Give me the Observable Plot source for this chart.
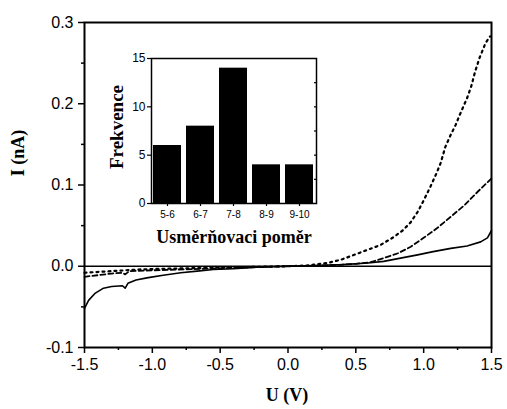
<!DOCTYPE html>
<html>
<head>
<meta charset="utf-8">
<script src="https://cdn.jsdelivr.net/npm/d3@7"></script>
<script src="https://cdn.jsdelivr.net/npm/@observablehq/plot@0.6"></script>
<style>
  html, body { margin: 0; padding: 0; background: white; }
  #wrap { position: relative; width: 507px; height: 409px; }
  #inset { position: absolute; left: 100px; top: 40px; }
</style>
</head>
<body>
<div id="wrap"><div id="main"></div><div id="inset"></div></div>
<script>
// Main I–V curves
const solidU = [-1.5,-1.47,-1.42,-1.36,-1.3,-1.22,-1.2,-1.18,-1.12,-1.03,-0.92,-0.79,-0.67,-0.55,-0.4,-0.2,0,0.2,0.4,0.59,0.705,0.83,0.955,1.07,1.2,1.32,1.42,1.47,1.5];
const solidI = [-0.052,-0.042,-0.033,-0.027,-0.025,-0.024,-0.027,-0.021,-0.017,-0.014,-0.011,-0.008,-0.006,-0.004,-0.003,-0.001,0,0.001,0.002,0.004,0.006,0.01,0.014,0.018,0.022,0.025,0.03,0.035,0.044];
const dashedU = [-1.5,-1.4,-1.3,-1.22,-1.2,-1.17,-1.0,-0.8,-0.6,-0.4,-0.2,0,0.2,0.4,0.5,0.61,0.705,0.81,0.905,1.0,1.1,1.2,1.3,1.4,1.5];
const dashedI = [-0.013,-0.011,-0.009,-0.008,-0.010,-0.006,-0.005,-0.004,-0.003,-0.002,-0.001,0,0.0005,0.002,0.003,0.005,0.01,0.016,0.024,0.035,0.047,0.061,0.075,0.092,0.108];
const dottedU = [-1.5,-1.3,-1.1,-0.9,-0.6,-0.3,0,0.15,0.29,0.39,0.535,0.68,0.78,0.845,0.904,0.956,1.0,1.05,1.096,1.125,1.16,1.2,1.236,1.265,1.32,1.35,1.38,1.413,1.457,1.49];
const dottedI = [-0.008,-0.006,-0.004,-0.003,-0.002,-0.001,0,0.001,0.004,0.008,0.017,0.026,0.036,0.044,0.054,0.067,0.081,0.098,0.115,0.127,0.147,0.162,0.174,0.186,0.207,0.221,0.24,0.257,0.275,0.283];

const xTicks = [-1.5,-1.0,-0.5,0.0,0.5,1.0,1.5];
const xMinor = [-1.25,-0.75,-0.25,0.25,0.75,1.25];
const yTicks = [-0.1,0.0,0.1,0.2,0.3];
const yMinor = [-0.05,0.05,0.15,0.25];

// Inset histogram
const ratioCats = ["5-6","6-7","7-8","8-9","9-10"];
const freq = [6,8,14,4,4];
const freqTicks = [0,5,10,15];
const freqMinor = [2.5,5,7.5,10,12.5];

const toRows = (U, I) => U.map((u, i) => ({u, i: I[i]}));
const fmt = d => d.toFixed(1);

const main = Plot.plot({
  width: 507, height: 409,
  marginLeft: 84, marginRight: 16, marginTop: 22, marginBottom: 62,
  x: {domain: [-1.5, 1.5]},
  y: {domain: [-0.1, 0.3]},
  style: {fontFamily: "'Liberation Sans', Arial, sans-serif", fontSize: "16px", color: "black", background: "white"},
  marks: [
    Plot.ruleY([0], {stroke: "black", strokeWidth: 1.5}),
    Plot.line(toRows(solidU, solidI), {x: "u", y: "i", stroke: "black", strokeWidth: 1.6}),
    Plot.line(toRows(dashedU, dashedI), {x: "u", y: "i", stroke: "black", strokeWidth: 1.8, strokeDasharray: "5,3"}),
    Plot.line(toRows(dottedU, dottedI), {x: "u", y: "i", stroke: "black", strokeWidth: 2.2, strokeDasharray: "2,4"}),
    Plot.frame({stroke: "black", strokeWidth: 2}),
    Plot.axisX({ticks: xTicks, tickFormat: fmt, tickSize: 6, tickPadding: 5, label: null, strokeWidth: 1.5}),
    Plot.axisX({ticks: xMinor, tickFormat: () => "", tickSize: 3, label: null, strokeWidth: 1.5}),
    Plot.axisY({ticks: yTicks, tickFormat: fmt, tickSize: 6, tickPadding: 5, label: null, strokeWidth: 1.5}),
    Plot.axisY({ticks: yMinor, tickFormat: () => "", tickSize: 3, label: null, strokeWidth: 1.5})
  ]
});
document.getElementById("main").appendChild(main);

const ms = d3.select(main);
ms.append("text").attr("x", 287).attr("y", 401).attr("text-anchor", "middle")
  .attr("font-family", "'Liberation Serif', 'Times New Roman', serif").attr("font-weight", "bold").attr("font-size", 18)
  .text("U (V)");
ms.append("text").attr("transform", "translate(24,153) rotate(-90)").attr("text-anchor", "middle")
  .attr("font-family", "'Liberation Serif', 'Times New Roman', serif").attr("font-weight", "bold").attr("font-size", 18)
  .text("I (nA)");

const inset = Plot.plot({
  width: 230, height: 210,
  marginLeft: 51, marginRight: 14, marginTop: 18, marginBottom: 47,
  x: {domain: ratioCats, padding: 0.15, paddingOuter: 0.05},
  y: {domain: [0, 15]},
  style: {fontFamily: "'Liberation Sans', Arial, sans-serif", fontSize: "11px", color: "black", background: "white"},
  marks: [
    Plot.barY(ratioCats.map((c, k) => ({c, f: freq[k]})), {x: "c", y: "f", fill: "black"}),
    Plot.frame({stroke: "black", strokeWidth: 1.5}),
    Plot.axisX({tickSize: 3, tickPadding: 4, label: null, fontSize: 10, strokeWidth: 1.2}),
    Plot.axisY({ticks: freqTicks, tickSize: 4, tickPadding: 2, label: null, fontSize: 12, strokeWidth: 1.2}),
    Plot.axisY({anchor: "right", ticks: freqMinor, tickSize: -3, tickFormat: () => "", label: null, strokeWidth: 1.2})
  ]
});
document.getElementById("inset").appendChild(inset);
const is = d3.select(inset);
is.append("text").attr("x", 134).attr("y", 203).attr("text-anchor", "middle")
  .attr("font-family", "'Liberation Serif', 'Times New Roman', serif").attr("font-weight", "bold").attr("font-size", 18)
  .text("Usměrňovaci poměr");
is.append("text").attr("transform", "translate(23,87) rotate(-90)").attr("text-anchor", "middle")
  .attr("font-family", "'Liberation Serif', 'Times New Roman', serif").attr("font-weight", "bold").attr("font-size", 19)
  .text("Frekvence");
</script>
</body>
</html>
